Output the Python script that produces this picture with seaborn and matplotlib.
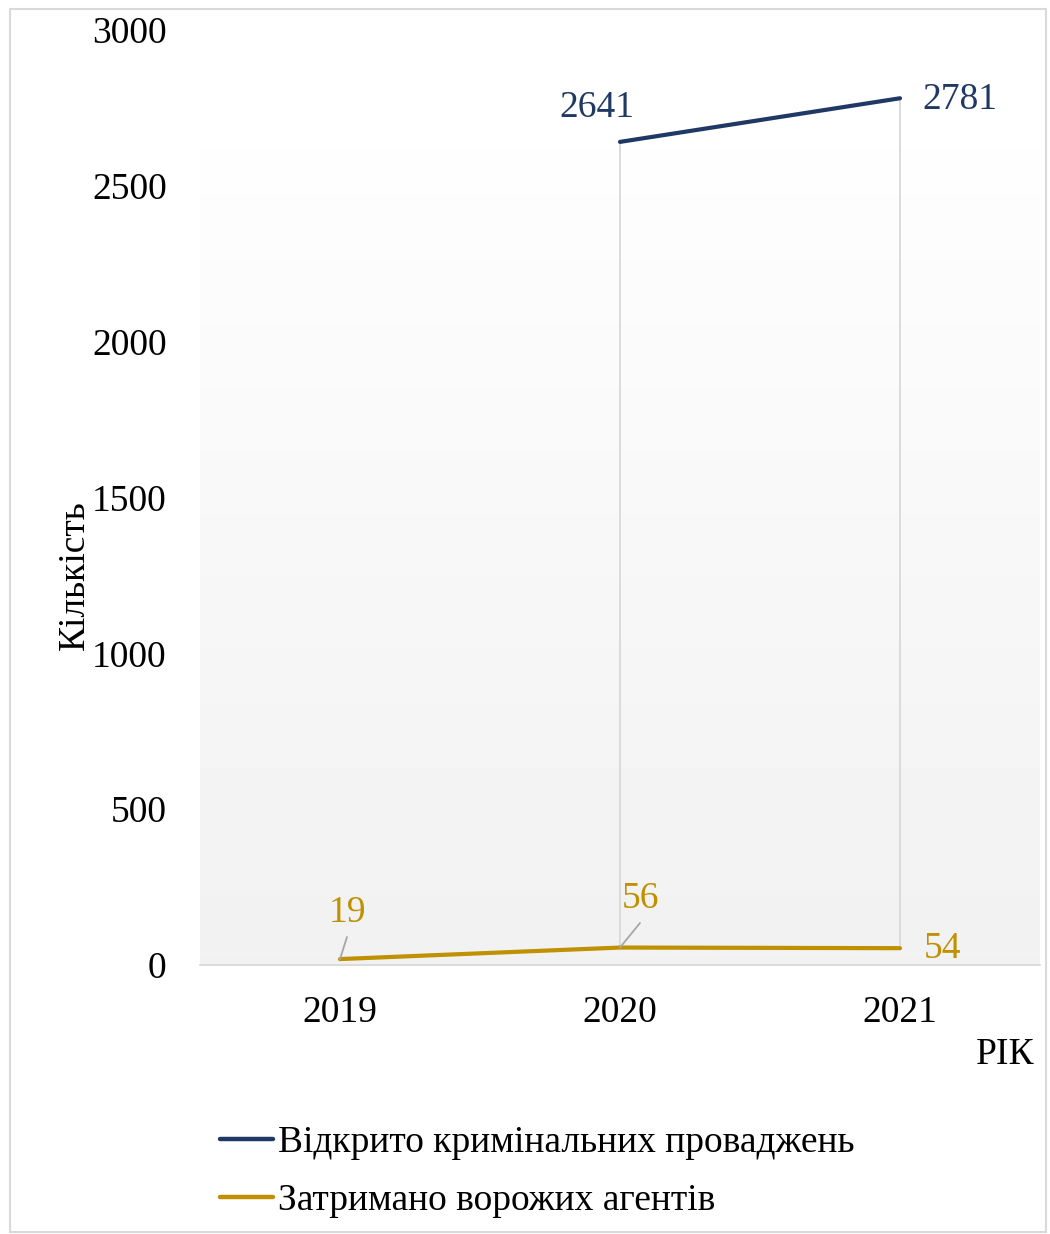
import numpy as np
import pandas as pd
import matplotlib
matplotlib.use("Agg")
import matplotlib.pyplot as plt
import seaborn as sns
from matplotlib.patches import Rectangle

# Data
years = [2019, 2020, 2021]
proceedings = [np.nan, 2641, 2781]
agents = [19, 56, 54]
series_names = ["Відкрито кримінальних проваджень", "Затримано ворожих агентів"]
y_ticks = [0, 500, 1000, 1500, 2000, 2500, 3000]

navy = "#203864"
gold = "#BF9000"
grid_grey = "#D9D9D9"

sns.set_theme(style="white")
plt.rcParams["font.family"] = ["Liberation Serif", "DejaVu Serif"]
plt.rcParams["text.color"] = "black"

W, H = 1050, 1234
fig = plt.figure(figsize=(W / 100, H / 100), dpi=100)
ax = fig.add_axes([200 / W, 1 - 965 / H, 840 / W, 935 / H])

df = pd.DataFrame({
    "year": years * 2,
    "value": proceedings + agents,
    "series": [series_names[0]] * 3 + [series_names[1]] * 3,
}).dropna()

# gradient plot-area fill
grad = np.linspace(0.945, 0.995, 256).reshape(-1, 1)
ax.imshow(grad, cmap="gray", vmin=0, vmax=1, aspect="auto", origin="lower",
          extent=(2018.5, 2021.5, 0, 2615), zorder=0, interpolation="bicubic")

# drop lines between the two series
for yr, a, b in zip(years, proceedings, agents):
    if not np.isnan(a):
        ax.plot([yr, yr], [b, a], color=grid_grey, lw=1.3, zorder=1)

sns.lineplot(data=df, x="year", y="value", hue="series",
             palette=[navy, gold], hue_order=series_names,
             linewidth=3.0, ax=ax, zorder=3, legend=True)
for line in ax.get_lines():
    line.set_solid_capstyle("round")

ax.set_xlim(2018.5, 2021.5)
ax.set_ylim(0, 3000)
ax.set_xticks(years)
ax.set_xticklabels([str(y) for y in years], fontsize=27)
ax.set_yticks(y_ticks)
ax.set_yticklabels([str(t) for t in y_ticks], fontsize=27)
ax.tick_params(axis="x", length=0, pad=22, colors="black")
ax.tick_params(axis="y", length=0, pad=24, colors="black")

for side in ["top", "right", "left"]:
    ax.spines[side].set_visible(False)
ax.spines["bottom"].set_color(grid_grey)
ax.spines["bottom"].set_linewidth(1.3)
ax.grid(False)

ax.set_xlabel("")
ax.set_ylabel("")
fig.text(1005 / W, 1 - 1055 / H, "РІК", fontsize=27, ha="center", va="center")
fig.text(75 / W, 1 - 575 / H, "Кількість", fontsize=27, ha="center", va="center",
         rotation=90)


def fig_px(x, y):
    return (x, H - y)


# value labels
label_specs = [
    (years[1], proceedings[1], navy, (597, 108)),
    (years[2], proceedings[2], navy, (960, 100)),
    (years[0], agents[0], gold, (347, 913)),
    (years[1], agents[1], gold, (640, 899)),
    (years[2], agents[2], gold, (942, 949)),
]
for x, v, col, pos in label_specs:
    ax.annotate(f"{int(v)}", xy=(x, v), xytext=fig_px(*pos),
                textcoords="figure pixels", color=col, fontsize=27,
                ha="center", va="center")

# leader lines for the small labels
for x, v, pos in [(years[0], agents[0], (347, 937)),
                  (years[1], agents[1], (640, 923))]:
    ax.annotate("", xy=(x, v), xytext=fig_px(*pos), textcoords="figure pixels",
                arrowprops=dict(arrowstyle="-", color="#A6A6A6", lw=1.3,
                                shrinkA=0, shrinkB=0))

# legend below the plot
handles, labels = ax.get_legend_handles_labels()
leg = ax.legend(handles, labels, loc="center left",
                bbox_to_anchor=(220 / W, 1 - 1172 / H), bbox_transform=fig.transFigure,
                frameon=False, fontsize=27, handlelength=1.4, handletextpad=0.15,
                labelspacing=0.62, borderpad=0, borderaxespad=0)
for h in leg.get_lines():
    h.set_linewidth(3.2)
for t in leg.get_texts():
    t.set_color("black")

# chart border
fig.patches.append(Rectangle((10 / W, 2 / H), 1036 / W, 1 - 11 / H,
                             transform=fig.transFigure, fill=False,
                             edgecolor="#D9D9D9", lw=1.5))

fig.savefig("out.png", dpi=100, facecolor="white")
